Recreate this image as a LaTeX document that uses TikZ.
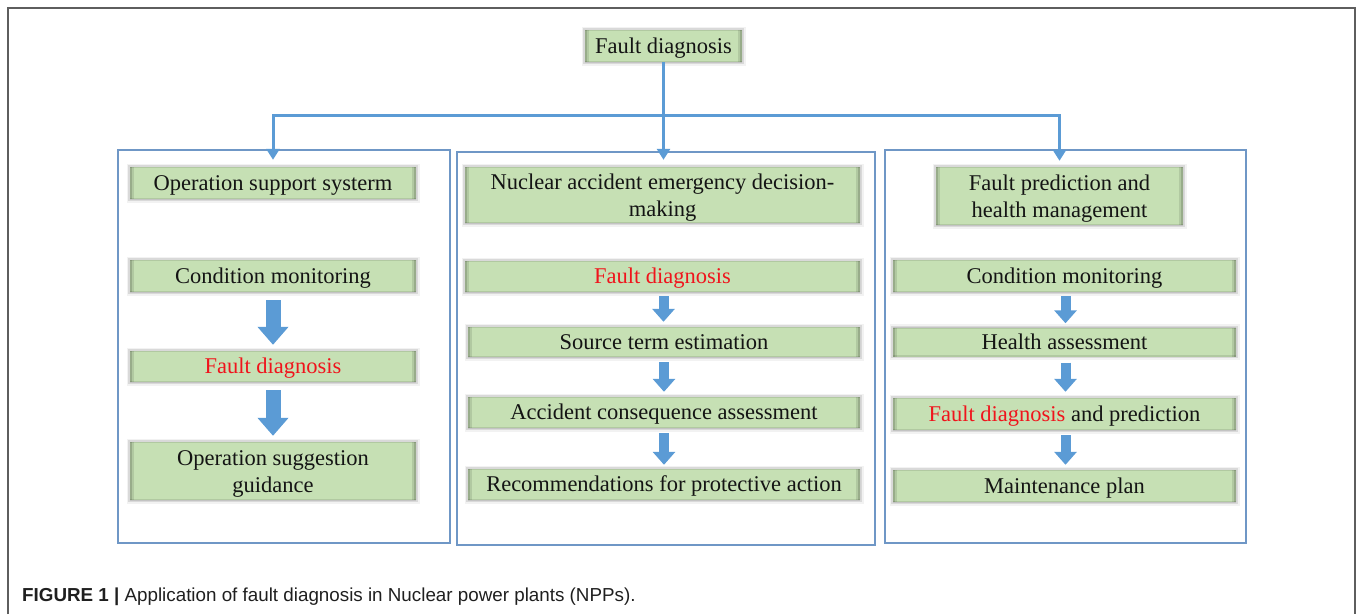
\documentclass[tikz,border=0pt]{standalone}
\usepackage{fontspec}
\setmainfont{Liberation Serif}
\newfontfamily\capfont{Liberation Sans}
\usetikzlibrary{arrows.meta,calc}

\definecolor{boxgreen}{HTML}{C6E0B4}
\definecolor{linkblue}{HTML}{5B9BD5}
\definecolor{panelblue}{HTML}{6F97C6}
\definecolor{framegray}{HTML}{5E5E5E}
\definecolor{hotred}{HTML}{F0141C}
\definecolor{inkblack}{HTML}{141414}

\tikzset{
  greenbox/.style={fill=boxgreen, draw=none,
    text=inkblack, inner sep=0pt, align=center, minimum height=31pt,
    font=\fontsize{22.5}{27}\selectfont,
    preaction={draw=black, opacity=0.05, line width=7pt},
    preaction={draw=black, opacity=0.10, line width=3.5pt},
    path picture={
      \draw[black, opacity=0.10, line width=8pt]
        (path picture bounding box.north west) -- (path picture bounding box.south west)
        (path picture bounding box.north east) -- (path picture bounding box.south east);
      \draw[black, opacity=0.14, line width=4pt]
        (path picture bounding box.north west) -- (path picture bounding box.south west)
        (path picture bounding box.north east) -- (path picture bounding box.south east);
      \draw[black, opacity=0.10, line width=2.5pt]
        (path picture bounding box.north west) -- (path picture bounding box.north east)
        (path picture bounding box.south west) -- (path picture bounding box.south east);
    }},
  oneline/.style={text height=16pt, text depth=2pt},
  twoline/.style={text height=43pt, text depth=0pt},
  panel/.style={draw=panelblue, line width=1.1pt},
  tree/.style={draw=linkblue, line width=3pt},
  treetip/.style={tree, -{Triangle[length=11pt,width=13pt]}},
  bigarrow/.style={draw=linkblue, line width=15pt,
    -{Triangle[length=18pt,width=30pt]}},
  smallarrow/.style={draw=linkblue, line width=10pt,
    -{Triangle[length=13pt,width=22pt]}}
}

\begin{document}
\begin{tikzpicture}[x=1pt,y=-1pt]
\useasboundingbox (0,0) rectangle (1357,614);

% outer frame (open at the bottom)
\draw[framegray, line width=2pt] (8,614) -- (8,8) -- (1355,8) -- (1355,614);

% root
\node[greenbox, oneline, minimum width=157pt, minimum height=32pt] (root) at (663.5,46) {Fault diagnosis};

% three panels
\draw[panel] (118,150) rectangle (450,543);
\draw[panel] (457,152) rectangle (875,545);
\draw[panel] (885,150) rectangle (1246,543);

% left column: operation support system
\node[greenbox, oneline, minimum width=286pt, minimum height=32pt] (oss) at (273,183) {Operation support systerm};
\node[greenbox, oneline, minimum width=286pt, minimum height=32pt] (lcm) at (273,276) {Condition monitoring};
\node[greenbox, oneline, minimum width=286pt, minimum height=31pt] (lfd) at (273,366.5) {\textcolor{hotred}{Fault diagnosis}};
\node[greenbox, twoline, minimum width=286pt, minimum height=58pt] (osg) at (273,471) {Operation suggestion\\guidance};

% middle column: emergency decision-making
\node[greenbox, twoline, minimum width=395pt, minimum height=56pt] (ned) at (662.5,195) {Nuclear accident emergency decision-\\making};
\node[greenbox, oneline, minimum width=395pt] (mfd) at (662.5,276.5) {\textcolor{hotred}{Fault diagnosis}};
\node[greenbox, oneline, minimum width=392pt, minimum height=30pt] (ste) at (664,342) {Source term estimation};
\node[greenbox, oneline, minimum width=392pt] (aca) at (664,412.5) {Accident consequence assessment};
\node[greenbox, oneline, minimum width=392pt] (rpa) at (664,484.5) {Recommendations for protective action};

% right column: prognostics and health management
\node[greenbox, twoline, minimum width=247pt, minimum height=58pt] (phm) at (1059.5,196) {Fault prediction and\\health management};
\node[greenbox, oneline, minimum width=343pt, minimum height=32pt] (rcm) at (1064.5,276) {Condition monitoring};
\node[greenbox, oneline, minimum width=343pt, minimum height=29pt] (has) at (1064.5,342) {Health assessment};
\node[greenbox, oneline, minimum width=343pt, minimum height=32pt] (fdp) at (1064.5,414) {\textcolor{hotred}{Fault diagnosis} and prediction};
\node[greenbox, oneline, minimum width=343pt, minimum height=32pt] (mpl) at (1064.5,486) {Maintenance plan};

% branching connectors from the root
\coordinate (bus) at (663.5,115);
\draw[tree] (root.south) -- (bus);
\draw[treetip] (bus) -| ([yshift=7pt]oss.north);
\draw[treetip] (bus) -- ([xshift=1pt,yshift=7pt]ned.north);
\draw[treetip] (bus) -| ([yshift=6pt]phm.north);

% flow arrows, left column
\draw[bigarrow] ([yshift=-8pt]lcm.south) -- ([yshift=6pt]lfd.north);
\draw[bigarrow] ([yshift=-8pt]lfd.south) -- ([yshift=6pt]osg.north);

% flow arrows, middle column
\draw[smallarrow] ([xshift=1pt,yshift=-4pt]mfd.south) -- ([xshift=-0.5pt,yshift=5pt]ste.north);
\draw[smallarrow] ([yshift=-5pt]ste.south) -- ([yshift=5pt]aca.north);
\draw[smallarrow] ([yshift=-5pt]aca.south) -- ([yshift=4pt]rpa.north);

% flow arrows, right column
\draw[smallarrow] ([xshift=1pt,yshift=-4pt]rcm.south) -- ([xshift=1pt,yshift=4pt]has.north);
\draw[smallarrow] ([xshift=1pt,yshift=-6pt]has.south) -- ([xshift=1pt,yshift=6pt]fdp.north);
\draw[smallarrow] ([xshift=1pt,yshift=-5pt]fdp.south) -- ([xshift=1pt,yshift=5pt]mpl.north);

% caption
\node[anchor=base west, inner sep=0pt, text=black!88, font=\capfont\fontsize{18.8}{22}\selectfont] (cap) at (22,601)
  {\textbf{FIGURE 1 |} Application of fault diagnosis in Nuclear power plants (NPPs).};
\end{tikzpicture}
\end{document}
